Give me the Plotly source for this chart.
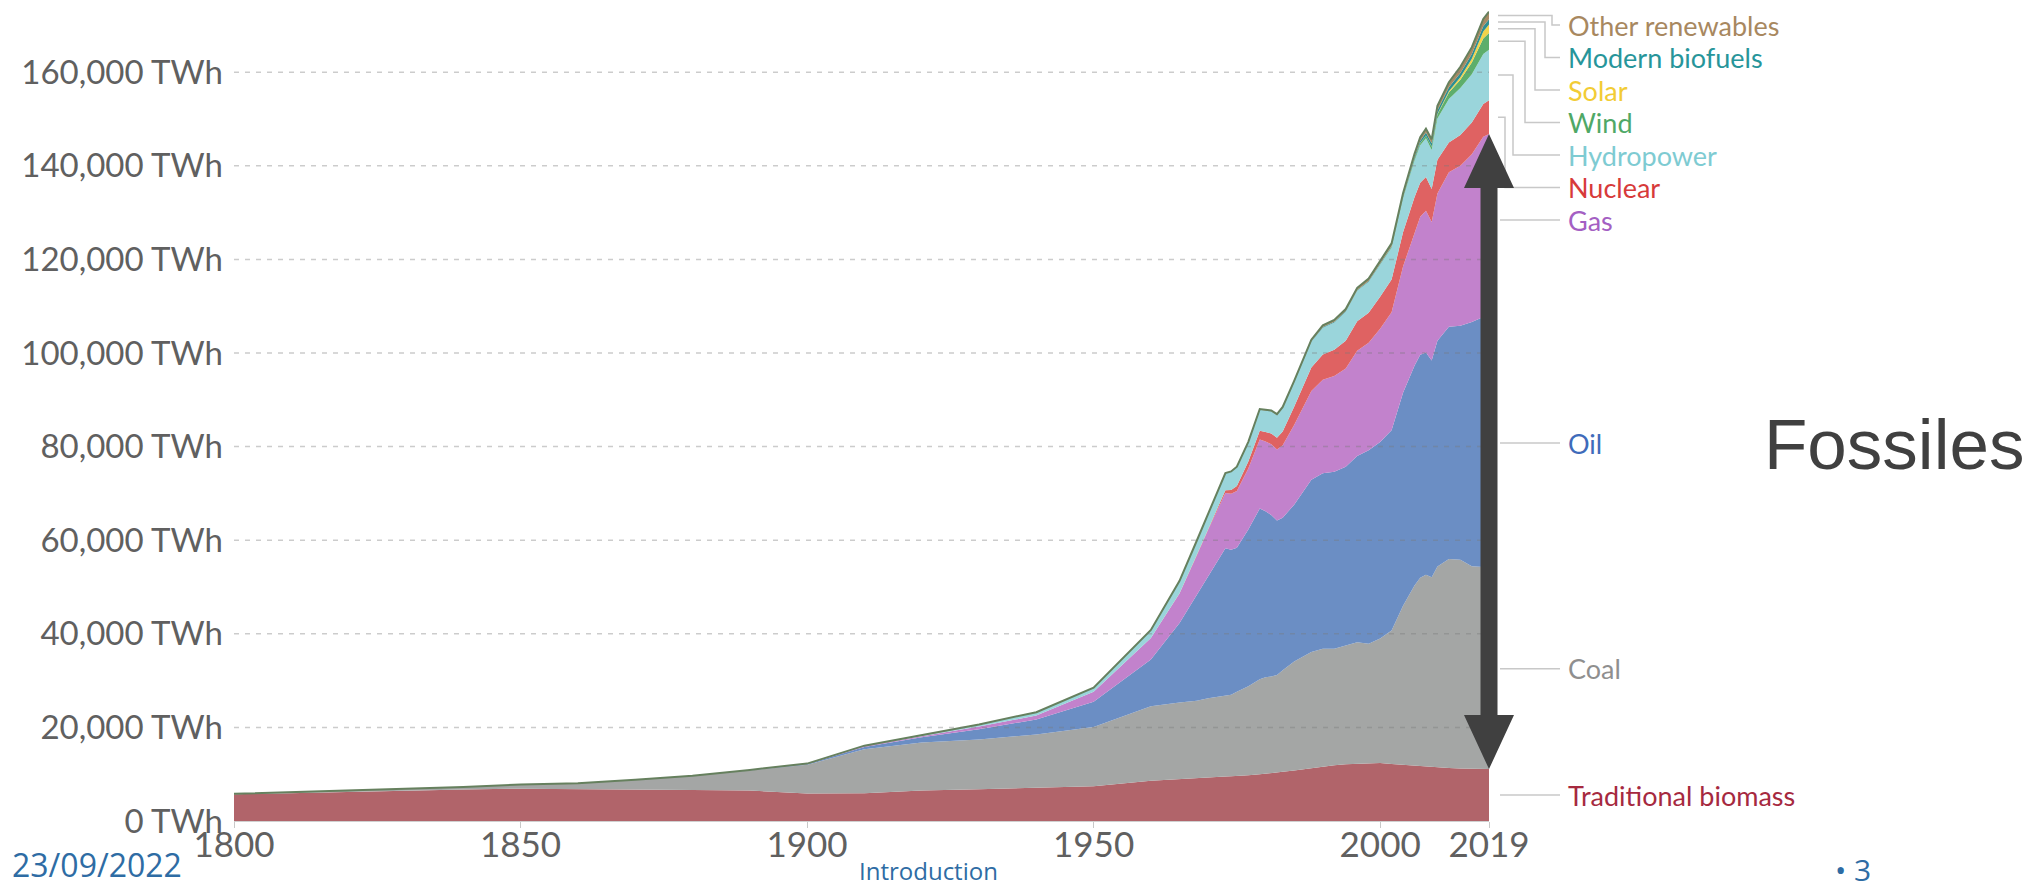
import plotly.graph_objects as go

# ---------------- data (TWh) ----------------
years = [1800, 1810, 1820, 1830, 1840, 1850, 1860, 1870, 1880, 1890,
         1900, 1910, 1920, 1930, 1940, 1950, 1960, 1965, 1968, 1970,
         1973, 1974, 1975, 1977, 1979, 1980, 1981, 1982, 1983, 1985,
         1988, 1990, 1992, 1994, 1996, 1998, 2000, 2002, 2004, 2006,
         2007, 2008, 2009, 2010, 2012, 2014, 2016, 2018, 2019]

traditional_biomass = [5700, 6000, 6300, 6550, 6750, 6900, 6850, 6800, 6650, 6500,
                       5900, 5950, 6500, 6800, 7100, 7400, 8600, 9000, 9200, 9350,
                       9500, 9550, 9600, 9800, 10000, 10100, 10200, 10300, 10500, 10800,
                       11300, 11600, 11900, 12100, 12200, 12300, 12400, 12200, 12000, 11800,
                       11700, 11600, 11500, 11400, 11300, 11200, 11150, 11100, 11100]
coal = [100, 130, 160, 270, 500, 900, 1200, 2000, 3000, 4300,
        6100, 9400, 10300, 10600, 11400, 12700, 15900, 16300, 16500, 16900,
        17300, 17400, 18000, 19000, 20300, 20600, 20700, 20900, 21700, 23300,
        24800, 25200, 24900, 25400, 26000, 25600, 26600, 28500, 34000, 38500,
        40300, 41000, 40600, 43000, 44700, 44600, 43300, 43200, 42900]
oil = [0, 0, 0, 0, 0, 0, 0, 10, 30, 90,
       180, 480, 1100, 2200, 3200, 5400, 10000, 17000, 22500, 26000,
       31500, 31000, 30800, 33500, 36500, 35500, 34500, 33000, 32600, 33500,
       36800, 37500, 37800, 38200, 39800, 41300, 42000, 42800, 45500, 47000,
       47600, 47500, 46300, 48200, 49600, 50000, 52200, 53400, 53500]
gas = [0, 0, 0, 0, 0, 0, 0, 0, 0, 30,
       60, 170, 230, 580, 850, 2100, 4600, 6300, 8500, 10000,
       11800, 12000, 12100, 13000, 14700, 14900, 15100, 15200, 15500, 17000,
       19000, 20000, 20500, 21000, 22500, 23000, 24200, 25200, 27000, 28600,
       29500, 30300, 29600, 31500, 33000, 34200, 35800, 38500, 39300]
nuclear = [0, 0, 0, 0, 0, 0, 0, 0, 0, 0,
           0, 0, 0, 0, 0, 0, 0, 70, 130, 230,
           580, 750, 1100, 1500, 1900, 2000, 2300, 2500, 2900, 3900,
           5000, 5400, 5600, 5900, 6300, 6400, 6800, 7000, 7300, 7400,
           7300, 7200, 7050, 7200, 6400, 6600, 6800, 7000, 7200]
hydropower = [0, 0, 0, 0, 0, 0, 0, 0, 0, 0,
              30, 100, 250, 450, 700, 900, 1700, 2600, 3000, 3300,
              3600, 3900, 4000, 4100, 4500, 4600, 4700, 4800, 5000, 5200,
              5500, 5700, 5800, 6200, 6500, 6600, 6800, 6800, 7200, 7800,
              8000, 8300, 8300, 8800, 9300, 10000, 10300, 10700, 10800]
wind = [0, 0, 0, 0, 0, 0, 0, 0, 0, 0,
        0, 0, 0, 0, 0, 0, 0, 0, 0, 0,
        0, 0, 0, 0, 0, 0, 0, 0, 0, 0,
        0, 10, 15, 20, 30, 50, 80, 140, 220, 340,
        430, 560, 700, 880, 1350, 1800, 2500, 3300, 3600]
solar = [0, 0, 0, 0, 0, 0, 0, 0, 0, 0,
         0, 0, 0, 0, 0, 0, 0, 0, 0, 0,
         0, 0, 0, 0, 0, 0, 0, 0, 0, 0,
         0, 0, 0, 0, 0, 1, 3, 4, 7, 15,
         20, 30, 50, 90, 270, 500, 850, 1500, 1800]
modern_biofuels = [0, 0, 0, 0, 0, 0, 0, 0, 0, 0,
                   0, 0, 0, 0, 0, 0, 0, 0, 0, 0,
                   0, 0, 0, 0, 0, 30, 40, 50, 60, 100,
                   120, 130, 140, 145, 145, 148, 150, 180, 250, 400,
                   500, 650, 700, 800, 850, 950, 1000, 1100, 1100]
other_renewables = [0, 0, 0, 0, 0, 0, 0, 0, 0, 0,
                    0, 0, 0, 0, 0, 0, 20, 40, 50, 60,
                    80, 90, 100, 120, 140, 160, 180, 200, 210, 250,
                    330, 380, 400, 430, 460, 500, 550, 600, 650, 700,
                    750, 800, 850, 950, 1100, 1300, 1450, 1580, 1620]

series_names = ["Traditional biomass", "Coal", "Oil", "Gas", "Nuclear", "Hydropower",
                "Wind", "Solar", "Modern biofuels", "Other renewables"]
series_values = [traditional_biomass, coal, oil, gas, nuclear, hydropower,
                 wind, solar, modern_biofuels, other_renewables]
fill_colors = ["#B1646A", "#A4A6A5", "#6B8EC4", "#C282CC", "#DF6262", "#9AD5DB",
               "#5DAE6C", "#F3D44B", "#2E8F92", "#A68A64"]
label_colors = ["#A6293F", "#8F8F8F", "#3F6BBA", "#A45FC3", "#D73A3A", "#7ECBD2",
                "#4FA866", "#F2CC35", "#27959A", "#A8885F"]

x_ticks = [1800, 1850, 1900, 1950, 2000, 2019]
y_ticks = [0, 20000, 40000, 60000, 80000, 100000, 120000, 140000, 160000]
y_tick_text = [f"{v:,} TWh" for v in y_ticks]

# ---------------- layout geometry ----------------
W, H = 2029, 893
L, R, T, B = 234, 540, 2, 72
Y_MAX = 175000
plot_w = W - L - R
plot_h = H - T - B
u_per_px = Y_MAX / plot_h

def xp(px):
    return (px - L) / plot_w

def yp(py):
    return (H - B - py) / plot_h

fig = go.Figure()
for name, vals, col in zip(series_names, series_values, fill_colors):
    fig.add_trace(go.Scatter(x=years, y=vals, name=name, mode="lines",
                             stackgroup="energy", line=dict(width=0, color=col),
                             fillcolor=col, showlegend=False))

total = [sum(v) for v in zip(*series_values)]
fig.add_trace(go.Scatter(x=years, y=total, mode="lines", showlegend=False,
                         line=dict(color="#66805E", width=2), hoverinfo="skip"))

shapes = []
# dashed gridlines, drawn above the areas (faint)
for v in y_ticks[1:]:
    shapes.append(dict(type="line", xref="paper", yref="y", x0=0, x1=1, y0=v, y1=v,
                       layer="above",
                       line=dict(color="rgba(120,120,120,0.38)", width=1.5, dash="5px,6px")))

# end-of-series labels with connectors
ends = [v[-1] for v in series_values]
cum = []
s = 0
for e in ends:
    cum.append((s, s + e))
    s += e
mids = [(a + b) / 2 for a, b in cum]

label_y = list(mids)
top_px = 25
spacing_px = 32.5
elbow_px = {4: 16, 5: 24, 6: 36, 7: 46, 8: 56, 9: 63}
for k, idx in enumerate(range(9, 2, -1)):
    label_y[idx] = (H - B - top_px - k * spacing_px) * u_per_px

annotations = []
for i, name in enumerate(series_names):
    annotations.append(dict(xref="paper", x=1, xshift=77, xanchor="left",
                            yref="y", y=label_y[i], yanchor="middle",
                            text=name, showarrow=False,
                            font=dict(family="Lato", size=27, color=label_colors[i])))
    if i in elbow_px:
        e = elbow_px[i]
        path = (f"M 9,{mids[i]} L {e},{mids[i]} L {e},{label_y[i]} L 71,{label_y[i]}")
    else:
        path = f"M 11,{label_y[i]} L 71,{label_y[i]}"
    shapes.append(dict(type="path", xref="paper", yref="y", xsizemode="pixel",
                       xanchor=1, path=path, layer="above",
                       fillcolor="rgba(0,0,0,0)",
                       line=dict(color="#C8C8C8", width=1.5)))

# double-headed arrow over the fossil-fuel span
fossil_bottom = cum[0][1]
fossil_top = cum[3][1]
hh = 54 * u_per_px
arrow_path = (f"M -8.5,{fossil_bottom + hh} L -8.5,{fossil_top - hh} L -25,{fossil_top - hh} "
              f"L 0,{fossil_top} L 25,{fossil_top - hh} L 8.5,{fossil_top - hh} "
              f"L 8.5,{fossil_bottom + hh} L 25,{fossil_bottom + hh} L 0,{fossil_bottom} "
              f"L -25,{fossil_bottom + hh} Z")
shapes.append(dict(type="path", xref="paper", yref="y", xsizemode="pixel", xanchor=1,
                   path=arrow_path, layer="above", fillcolor="#404040",
                   line=dict(width=0)))

annotations += [
    dict(xref="paper", yref="paper", x=xp(1762), y=yp(444), xanchor="left", yanchor="middle",
         text="Fossiles", showarrow=False,
         font=dict(family="Liberation Sans", size=71, color="#404040")),
    dict(xref="paper", yref="paper", x=xp(10), y=yp(864), xanchor="left", yanchor="middle",
         text="23/09/2022", showarrow=False,
         font=dict(family="Open Sans", size=32, color="#2E6CA4")),
    dict(xref="paper", yref="paper", x=xp(929), y=yp(870), xanchor="center", yanchor="middle",
         text="Introduction", showarrow=False,
         font=dict(family="Open Sans", size=24, color="#2E6CA4")),
    dict(xref="paper", yref="paper", x=xp(1853), y=yp(869), xanchor="center", yanchor="middle",
         text="• 3", showarrow=False,
         font=dict(family="Open Sans", size=30, color="#2E6CA4")),
]

fig.update_layout(
    width=W, height=H,
    margin=dict(l=L, r=R, t=T, b=B, pad=0),
    paper_bgcolor="white", plot_bgcolor="white",
    showlegend=False,
    shapes=shapes, annotations=annotations,
    xaxis=dict(range=[1800, 2019], tickvals=x_ticks, showgrid=False, zeroline=False,
               showline=True, linecolor="#D0D0D0", linewidth=1,
               ticks="outside", ticklen=6, tickcolor="#C8C8C8",
               ticklabelstandoff=-13,
               tickfont=dict(family="Lato", size=35, color="#606060")),
    yaxis=dict(range=[0, Y_MAX], tickmode="array", tickvals=y_ticks, ticktext=y_tick_text,
               showgrid=False, zeroline=False, showline=False, ticks="",
               ticklabelstandoff=10,
               tickfont=dict(family="Lato", size=33, color="#606060")),
)

fig.write_html("out.html", config={"displayModeBar": False},
               post_script="document.body.style.margin='0';document.body.style.overflow='hidden';")
